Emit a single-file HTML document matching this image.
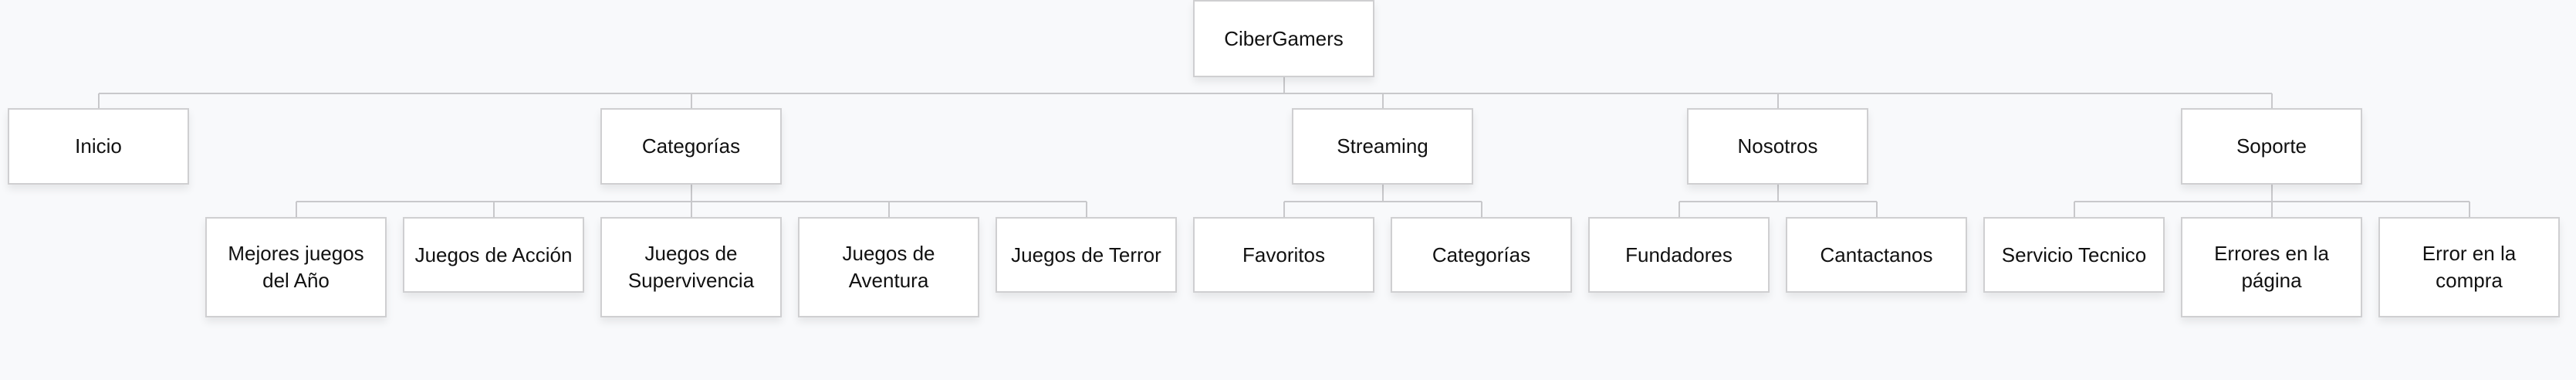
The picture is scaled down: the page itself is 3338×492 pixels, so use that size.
<!DOCTYPE html>
<html><head><meta charset="utf-8"><style>
html,body{margin:0;padding:0}
body{width:3338px;height:492px;background:#f8f9fb;position:relative;overflow:hidden;font-family:"Liberation Sans",sans-serif}
.b{position:absolute;box-sizing:border-box;width:235px;background:#fff;border:2px solid #cfcfd1;box-shadow:0 6px 10px rgba(0,0,0,0.08);display:flex;align-items:center;justify-content:center;text-align:center;font-size:26px;line-height:35px;color:#111}
.l2{top:140px;height:99px}
.s{top:281px;height:98px}
.t{top:281px;height:130px}
svg{position:absolute;left:0;top:0}
</style></head><body>
<svg width="3338" height="492"><g stroke="#c8c8cb" stroke-width="2" fill="none">
<path d="M1664 99V121M128 121H2944M128 121V141M896 121V141M1792 121V141M2304 121V141M2944 121V141"/>
<path d="M896 239V261M384 261H1408M384 261V281M640 261V281M896 261V281M1152 261V281M1408 261V281"/>
<path d="M1792 239V261M1664 261H1920M1664 261V281M1920 261V281"/>
<path d="M2304 239V261M2176 261H2432M2176 261V281M2432 261V281"/>
<path d="M2944 239V261M2688 261H3200M2688 261V281M2944 261V281M3200 261V281"/>
</g></svg>
<div class="b" style="left:1546px;top:0;height:100px">CiberGamers</div>
<div class="b l2" style="left:10px">Inicio</div>
<div class="b l2" style="left:778px">Categorías</div>
<div class="b l2" style="left:1674px">Streaming</div>
<div class="b l2" style="left:2186px">Nosotros</div>
<div class="b l2" style="left:2826px">Soporte</div>
<div class="b t" style="left:266px">Mejores juegos<br>del Año</div>
<div class="b s" style="left:522px">Juegos de Acción</div>
<div class="b t" style="left:778px">Juegos de<br>Supervivencia</div>
<div class="b t" style="left:1034px">Juegos de<br>Aventura</div>
<div class="b s" style="left:1290px">Juegos de Terror</div>
<div class="b s" style="left:1546px">Favoritos</div>
<div class="b s" style="left:1802px">Categorías</div>
<div class="b s" style="left:2058px">Fundadores</div>
<div class="b s" style="left:2314px">Cantactanos</div>
<div class="b s" style="left:2570px">Servicio Tecnico</div>
<div class="b t" style="left:2826px">Errores en la<br>página</div>
<div class="b t" style="left:3082px">Error en la<br>compra</div>
</body></html>
